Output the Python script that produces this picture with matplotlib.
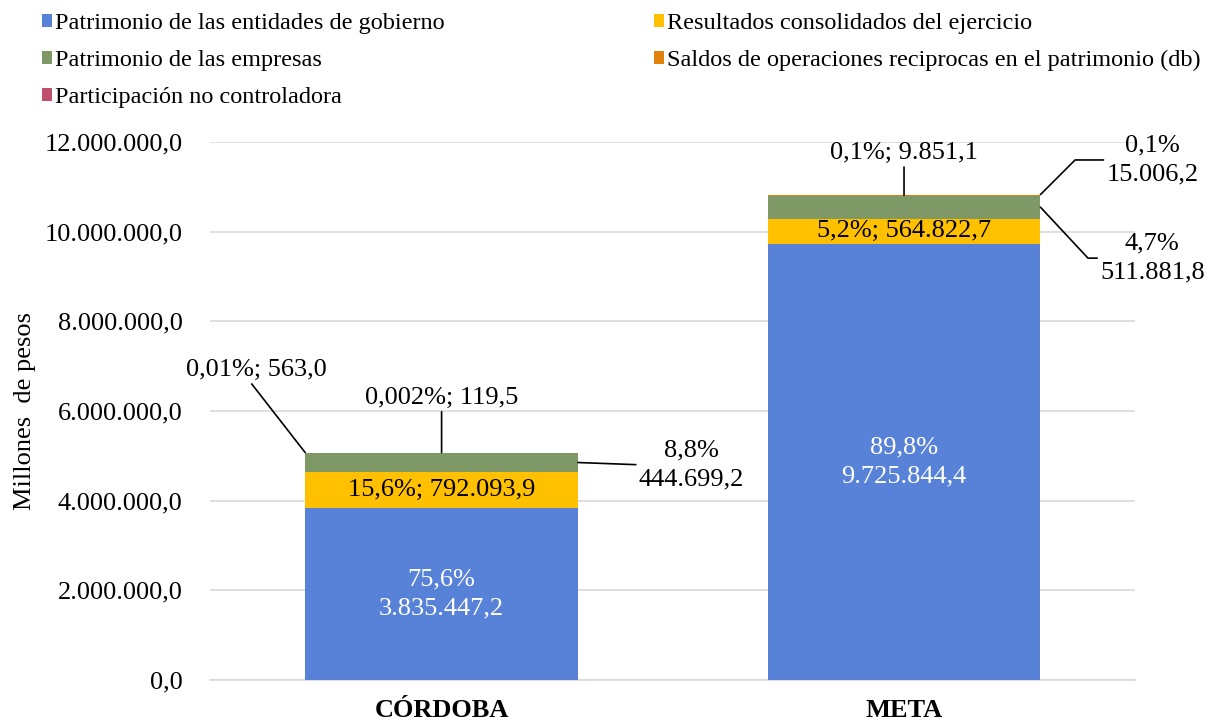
import numpy as np
import matplotlib.pyplot as plt
from matplotlib.patches import Patch

categorias = ['CÓRDOBA', 'META']
series = ['Patrimonio de las entidades de gobierno',
          'Resultados consolidados del ejercicio',
          'Patrimonio de las empresas',
          'Saldos de operaciones reciprocas en el patrimonio (db)',
          'Participación no controladora']
gobierno = [3835447.2, 9725844.4]
resultados = [792093.9, 564822.7]
empresas = [444699.2, 511881.8]
saldos = [119.5, 9851.1]
participacion = [563.0, 15006.2]
pct_gobierno = ['75,6%', '89,8%']
pct_resultados = ['15,6%', '5,2%']
pct_empresas = ['8,8%', '4,7%']
pct_saldos = ['0,002%', '0,1%']
pct_participacion = ['0,01%', '0,1%']

valores = [gobierno, resultados, empresas, saldos, participacion]
porcentajes = [pct_gobierno, pct_resultados, pct_empresas, pct_saldos, pct_participacion]
colores = ['#5882D8', '#FFC000', '#7F9966', '#E2820E', '#C0506E']

plt.rcParams['font.family'] = 'serif'
plt.rcParams['font.serif'] = ['Liberation Serif', 'Times New Roman', 'DejaVu Serif']
FS = 19


def fmt(v):
    s = f"{v:,.1f}"
    return s.replace(',', 'X').replace('.', ',').replace('X', '.')


fig = plt.figure(figsize=(12.09, 7.21), dpi=100)
ax = fig.add_axes([0.174, 0.057, 0.765, 0.746])

x = np.arange(len(categorias))
ancho = 0.59
base = np.zeros(len(categorias))
bars = []
for vals, col in zip(valores, colores):
    ax.bar(x, vals, ancho, bottom=base, color=col, zorder=3)
    bars.append((base.copy(), np.array(vals)))
    base += np.array(vals)

ax.set_xlim(-0.5, 1.5)
ax.set_ylim(0, 12e6)
ax.set_yticks(np.arange(0, 12e6 + 1, 2e6))
ax.set_yticklabels([fmt(t) for t in np.arange(0, 12e6 + 1, 2e6)], fontsize=FS)
ax.set_xticks(x)
ax.set_xticklabels(categorias, fontsize=FS, fontweight='bold')
ax.tick_params(length=0)
ax.tick_params(axis='y', pad=20)
ax.tick_params(axis='x', pad=14)
ax.grid(axis='y', color='#D9D9D9', linewidth=1.2, zorder=0)
for s in ['top', 'right', 'left']:
    ax.spines[s].set_visible(False)
ax.spines['bottom'].set_color('#D9D9D9')
ax.spines['bottom'].set_linewidth(1.2)
ax.set_ylabel('Millones  de pesos', fontsize=FS, labelpad=6)

# etiquetas: (serie, categoria) -> posicion del texto
fuera = {
    (2, 0): dict(xy='right_mid', xytext=(0.54, 4.80e6), sep='\n', relpos=(0, 0.5), conn=None),
    (3, 0): dict(xy='center_top', xytext=(0.0, 6.29e6), sep='; ', relpos=(0.5, 0), conn=None),
    (4, 0): dict(xy='left_top', xytext=(-0.40, 6.91e6), sep='; ', relpos=(0.45, 0), conn=None),
    (2, 1): dict(xy='right_mid', xytext=(1.537, 9.41e6), sep='\n', relpos=(0, 0.5),
                 conn='angle,angleA=0,angleB=-47,rad=0'),
    (3, 1): dict(xy='center_top', xytext=(1.0, 11.75e6), sep='; ', relpos=(0.5, 0), conn=None),
    (4, 1): dict(xy='right_top', xytext=(1.537, 11.60e6), sep='\n', relpos=(0, 0.5),
                 conn='angle,angleA=0,angleB=45,rad=0'),
}

for i, (vals, pcts) in enumerate(zip(valores, porcentajes)):
    abajo, alto = bars[i]
    for j in range(len(categorias)):
        if (i, j) in fuera:
            d = fuera[(i, j)]
            tope = abajo[j] + alto[j]
            if d['xy'] == 'right_mid':
                xy = (x[j] + ancho / 2, abajo[j] + alto[j] / 2)
            elif d['xy'] == 'center_top':
                xy = (x[j], tope)
            elif d['xy'] == 'left_top':
                xy = (x[j] - ancho / 2, tope)
            else:
                xy = (x[j] + ancho / 2, tope)
            ap = dict(arrowstyle='-', color='black', lw=1.2, shrinkA=0, shrinkB=0,
                      relpos=d['relpos'])
            if d['conn']:
                ap['connectionstyle'] = d['conn']
            ax.annotate(pcts[j] + d['sep'] + fmt(vals[j]), xy=xy, xytext=d['xytext'],
                        ha='center', va='center', fontsize=FS, arrowprops=ap,
                        linespacing=1.4, zorder=5)
        else:
            color = 'white' if i == 0 else 'black'
            sep = '\n' if i == 0 else '; '
            ax.text(x[j], abajo[j] + alto[j] / 2, pcts[j] + sep + fmt(vals[j]),
                    ha='center', va='center', fontsize=FS, color=color,
                    linespacing=1.4, zorder=5)

orden = [0, 2, 4, 1, 3]
handles = [Patch(facecolor=colores[k]) for k in orden]
fig.legend(handles, [series[k] for k in orden], ncol=2, loc='upper left',
           bbox_to_anchor=(0.0165, 1.012), frameon=False, fontsize=17.5,
           handlelength=0.43, handleheight=0.43, handletextpad=0.12,
           columnspacing=8.6, labelspacing=0.65)

fig.savefig('out.png', dpi=100)
